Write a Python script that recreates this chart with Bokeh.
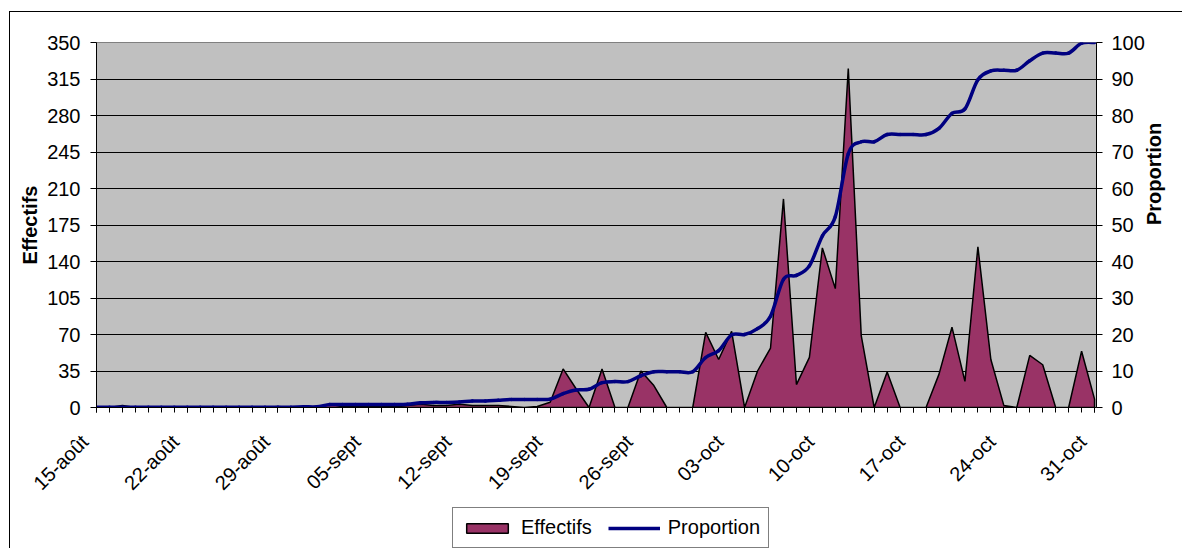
import numpy as np
from bokeh.plotting import figure
from bokeh.layouts import column
from bokeh.models import (Range1d, LinearAxis, FixedTicker, Legend, LegendItem,
                          ColumnDataSource, InlineStyleSheet)
from bokeh.embed import file_html
from bokeh.resources import INLINE

# ---------------- data ----------------
days = list(range(78))  # 15 août .. 31 oct
tick_days = [0, 7, 14, 21, 28, 35, 42, 49, 56, 63, 70, 77]
tick_labels = ["15-août", "22-août", "29-août", "05-sept", "12-sept", "19-sept",
               "26-sept", "03-oct", "10-oct", "17-oct", "24-oct", "31-oct"]

effectifs = [0, 0, 2, 0, 0, 0, 0, 0, 0, 0,
             0, 0, 0, 0, 1, 0, 1, 0, 3, 1,
             1, 1, 1, 1, 2, 3, 2, 2, 3, 2,
             2, 2, 1, 0, 1, 5, 37, 18, 0, 37,
             0, 0, 35, 21, 0, 0, 0, 72, 46, 73,
             0, 35, 57, 200, 22, 48, 153, 114, 325, 69,
             0, 34, 0, 0, 0, 32, 77, 25, 154, 46,
             2, 0, 50, 41, 0, 0, 54, 8]

proportion = [0.1, 0.1, 0.1, 0.1, 0.1, 0.1, 0.1, 0.1, 0.1, 0.1,
              0.1, 0.1, 0.1, 0.1, 0.1, 0.1, 0.2, 0.2, 0.8, 0.8,
              0.8, 0.8, 0.8, 0.8, 0.9, 1.3, 1.4, 1.4, 1.5, 1.8,
              1.8, 2.0, 2.2, 2.2, 2.2, 2.3, 3.8, 4.8, 5.0, 6.8,
              7.1, 7.1, 8.7, 9.8, 9.8, 9.8, 9.8, 13.7, 15.6, 19.9,
              20.0, 21.6, 25.0, 35.1, 36.2, 38.8, 47.0, 52.3, 69.5, 72.8,
              72.8, 74.8, 74.8, 74.8, 74.8, 76.5, 80.6, 81.8, 89.8, 92.2,
              92.4, 92.4, 95.0, 97.1, 97.1, 97.1, 99.8, 100.0]

left_ticks = [0, 35, 70, 105, 140, 175, 210, 245, 280, 315, 350]
right_ticks = [0, 10, 20, 30, 40, 50, 60, 70, 80, 90, 100]

FONT = "Liberation Sans"
PAD = "\u00a0\u00a0\u00a0"
AREA_FILL = "#993366"
LINE_COL = "#000080"

# ---------------- main figure ----------------
p = figure(width=1182, height=506, output_backend="svg", toolbar_location=None,
           x_range=Range1d(0, 77.15), y_range=Range1d(0, 350),
           min_border_left=96, min_border_right=86, min_border_top=42,
           min_border_bottom=99)
p.extra_y_ranges = {"prop": Range1d(0, 100)}
p.background_fill_color = "#C0C0C0"
p.border_fill_color = "white"
p.outline_line_color = "#808080"
p.outline_line_width = 1

# x axis
xa = p.xaxis[0]
xa.ticker = FixedTicker(ticks=tick_days, minor_ticks=days)
xa.major_label_overrides = {d: l + PAD for d, l in zip(tick_days, tick_labels)}
xa.major_label_orientation = np.pi / 4
xa.major_tick_in = 0
xa.major_tick_out = 5
xa.minor_tick_in = 0
xa.minor_tick_out = 5
xa.axis_line_color = "black"
xa.major_tick_line_color = "black"
xa.minor_tick_line_color = "black"
xa.major_label_text_font = FONT
xa.major_label_text_font_size = "20px"
xa.major_label_text_color = "black"
xa.major_label_standoff = 14

# left y axis
ya = p.yaxis[0]
ya.ticker = FixedTicker(ticks=left_ticks, minor_ticks=[])
ya.major_tick_in = 0
ya.major_tick_out = 6
ya.axis_line_color = "black"
ya.major_tick_line_color = "black"
ya.major_label_text_font = FONT
ya.major_label_text_font_size = "20px"
ya.major_label_text_color = "black"
ya.major_label_standoff = 10
ya.axis_label = "Effectifs"
ya.axis_label_text_font = FONT
ya.axis_label_text_font_size = "20px"
ya.axis_label_text_font_style = "bold"
ya.axis_label_text_color = "black"
ya.axis_label_standoff = 3

# right y axis
ra = LinearAxis(y_range_name="prop", ticker=FixedTicker(ticks=right_ticks, minor_ticks=[]))
ra.major_tick_in = 0
ra.major_tick_out = 6
ra.axis_line_color = "black"
ra.major_tick_line_color = "black"
ra.major_label_text_font = FONT
ra.major_label_text_font_size = "20px"
ra.major_label_text_color = "black"
ra.major_label_standoff = 9
ra.axis_label = "Proportion"
ra.axis_label_text_font = FONT
ra.axis_label_text_font_size = "20px"
ra.axis_label_text_font_style = "bold"
ra.axis_label_text_color = "black"
ra.axis_label_standoff = 6
if "axis_label_orientation" in ra.properties():
    ra.axis_label_orientation = np.pi / 2
p.add_layout(ra, "right")

# grid
p.xgrid.visible = False
p.ygrid.ticker = FixedTicker(ticks=left_ticks)
p.ygrid.grid_line_color = "black"
p.ygrid.grid_line_width = 1

# ---------------- glyphs ----------------
px = [days[0]] + days + [days[-1]]
py = [0] + effectifs + [0]
p.patch(px, py, fill_color=AREA_FILL, line_color="black", line_width=1.5)

# smoothed proportion line (cubic Bezier through the points)
n = len(proportion)
seg = dict(x0=[], y0=[], x1=[], y1=[], cx0=[], cy0=[], cx1=[], cy1=[])
for i in range(n - 1):
    im, i2 = max(i - 1, 0), min(i + 2, n - 1)
    seg["x0"].append(days[i]); seg["y0"].append(proportion[i])
    seg["x1"].append(days[i + 1]); seg["y1"].append(proportion[i + 1])
    seg["cx0"].append(days[i] + (days[i + 1] - days[im]) / 6)
    seg["cy0"].append(proportion[i] + (proportion[i + 1] - proportion[im]) / 6)
    seg["cx1"].append(days[i + 1] - (days[i2] - days[i]) / 6)
    seg["cy1"].append(proportion[i + 1] - (proportion[i2] - proportion[i]) / 6)
p.bezier(x0="x0", y0="y0", x1="x1", y1="y1", cx0="cx0", cy0="cy0", cx1="cx1", cy1="cy1",
         source=ColumnDataSource(seg), line_color=LINE_COL, line_width=3.5,
         line_cap="round", y_range_name="prop")

# ---------------- legend strip ----------------
lf = figure(width=1182, height=42, output_backend="svg", toolbar_location=None,
            x_axis_type=None, y_axis_type=None, x_range=Range1d(0, 1), y_range=Range1d(0, 1),
            min_border_left=0, min_border_right=0, min_border_top=0, min_border_bottom=0)
lf.outline_line_color = None
lf.background_fill_color = "white"
lf.border_fill_color = "white"
lf.xgrid.visible = False
lf.ygrid.visible = False
# legend-only renderers (kept outside the visible ranges)
leg_area = lf.patch(x=[5, 6, 6], y=[5, 5, 6], fill_color=AREA_FILL,
                    line_color="black", line_width=1.5)
leg_line = lf.line(x=[5, 6], y=[5, 5], line_color=LINE_COL, line_width=3.5)
legend = Legend(items=[LegendItem(label="Effectifs", renderers=[leg_area]),
                       LegendItem(label="Proportion", renderers=[leg_line])],
                orientation="horizontal", location=(356, 0),
                border_line_color="black", border_line_width=1,
                background_fill_color="white", background_fill_alpha=1,
                glyph_width=52, glyph_height=12, label_standoff=8, spacing=16,
                padding=8, margin=0, label_text_font=FONT,
                label_text_font_size="20px", label_text_color="black")
lf.add_layout(legend, "center")

layout = column(p, lf, spacing=0)
layout.stylesheets = [InlineStyleSheet(css="""
:host { position: relative; }
:host::after { content: ''; position: absolute; left: 9px; top: 11px;
  width: calc(100% - 9px); height: calc(100% - 11px);
  border-left: 1px solid black; border-top: 1px solid black;
  pointer-events: none; box-sizing: border-box; }
""")]

open("out.html", "w").write(file_html(layout, INLINE))
